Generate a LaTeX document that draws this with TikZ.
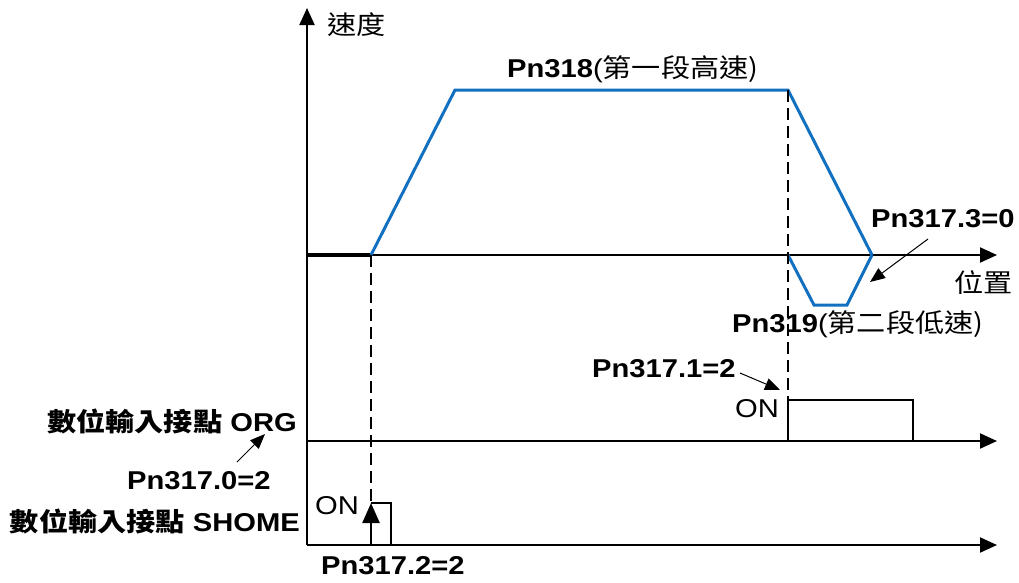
\documentclass[tikz,border=0pt]{standalone}
\usepackage{fontspec}
\setmainfont{Liberation Sans}[FakeStretch=1.13]
\newfontfamily\cjk{Noto Sans CJK TC}[FakeStretch=1.13]
\usetikzlibrary{arrows.meta}
\definecolor{profblue}{RGB}{18,112,192}
\begin{document}
\begin{tikzpicture}[x=1pt,y=-1pt,
  font=\fontsize{25.8}{28}\selectfont,
  lbl/.style={inner sep=0pt,anchor=base west},
  lble/.style={inner sep=0pt,anchor=base east},
  axisline/.style={line width=2pt,-{Triangle[length=17pt,width=15pt]}},
  sigline/.style={line width=2.4pt},
  prof/.style={line width=3pt,color=profblue,line join=miter},
  guide/.style={line width=1.4pt,dash pattern=on 12pt off 6pt},
  pointer/.style={line width=1pt,-{Triangle[length=15pt,width=12pt]}}]
\useasboundingbox (0,0) rectangle (1019,582);

% coordinates
\coordinate (o) at (307,545);
\coordinate (ytip) at (307,8);
\coordinate (v0) at (307,255);
\coordinate (xtip) at (997,255);
\coordinate (s1) at (371,255);
\coordinate (s2) at (455,90);
\coordinate (s3) at (788,90);
\coordinate (s4) at (872,255);
\coordinate (l1) at (788,255);
\coordinate (l2) at (814,305);
\coordinate (l3) at (847,305);
\coordinate (g0) at (307,441);
\coordinate (gtip) at (997,441);
\coordinate (g1) at (788,441);
\coordinate (g2) at (788,400);
\coordinate (g3) at (913,400);
\coordinate (g4) at (913,441);
\coordinate (htip) at (997,545);
\coordinate (h1) at (371,545);
\coordinate (h2) at (371,503);
\coordinate (h3) at (391,503);
\coordinate (h4) at (391,545);

% axes
\draw[axisline] (o) -- (ytip);
\draw[axisline] (v0) -- (xtip);
\draw[axisline] (g0) -- (gtip);
\draw[axisline] (o) -- (htip);

% speed profile
\draw[line width=3.5pt] (v0) -- (s1);
\draw[prof] (s1) -- (s2) -- (s3) -- (s4);
\draw[prof] (l1) -- (l2) -- (l3) -- (s4);

% guides
\draw[guide] (s1) -- (h2);
\draw[guide] (s3) -- (g2);

% signals
\draw[sigline] (g1) -- (g2) -- (g3) -- (g4);
\draw[sigline] (h2) -- (h3) -- (h4);
\draw[line width=2.4pt,-{Triangle[length=20pt,width=17pt]}] (h1) -- (h2);

% labels
\node[lbl] (vel) at (327,34) {\cjk 速度};
\node[lbl] (p318) at (507,77) {\textbf{Pn318}(\cjk 第一段高速)};
\node[lbl] (p3173) at (871,227) {\textbf{Pn317.3=0}};
\node[lble] (pos) at (1013,292) {\cjk 位置};
\node[lbl] (p319) at (732,332) {\textbf{Pn319}(\cjk 第二段低速)};
\node[lbl] (p3171) at (592,377) {\textbf{Pn317.1=2}};
\node[lbl] (on1) at (735,417) {ON};
\node[lble] (org) at (297,431) {\bfseries\cjk 數位輸入接點\normalfont\ \textbf{ORG}};
\node[lbl] (p3170) at (127,489) {\textbf{Pn317.0=2}};
\node[lbl] (on2) at (315,514) {ON};
\node[lble] (shome) at (300,531) {\bfseries\cjk 數位輸入接點\normalfont\ \textbf{SHOME}};
\node[lbl] (p3172) at (321,574) {\textbf{Pn317.2=2}};

% pointers
\coordinate (a1s) at (928,239);
\coordinate (a1e) at (870,282);
\coordinate (a2s) at (740,373);
\coordinate (a2e) at (780,390);
\coordinate (a3s) at (237,462);
\coordinate (a3e) at (265,434);
\draw[pointer] (a1s) -- (a1e);
\draw[pointer] (a2s) -- (a2e);
\draw[pointer] (a3s) -- (a3e);
\end{tikzpicture}
\end{document}
